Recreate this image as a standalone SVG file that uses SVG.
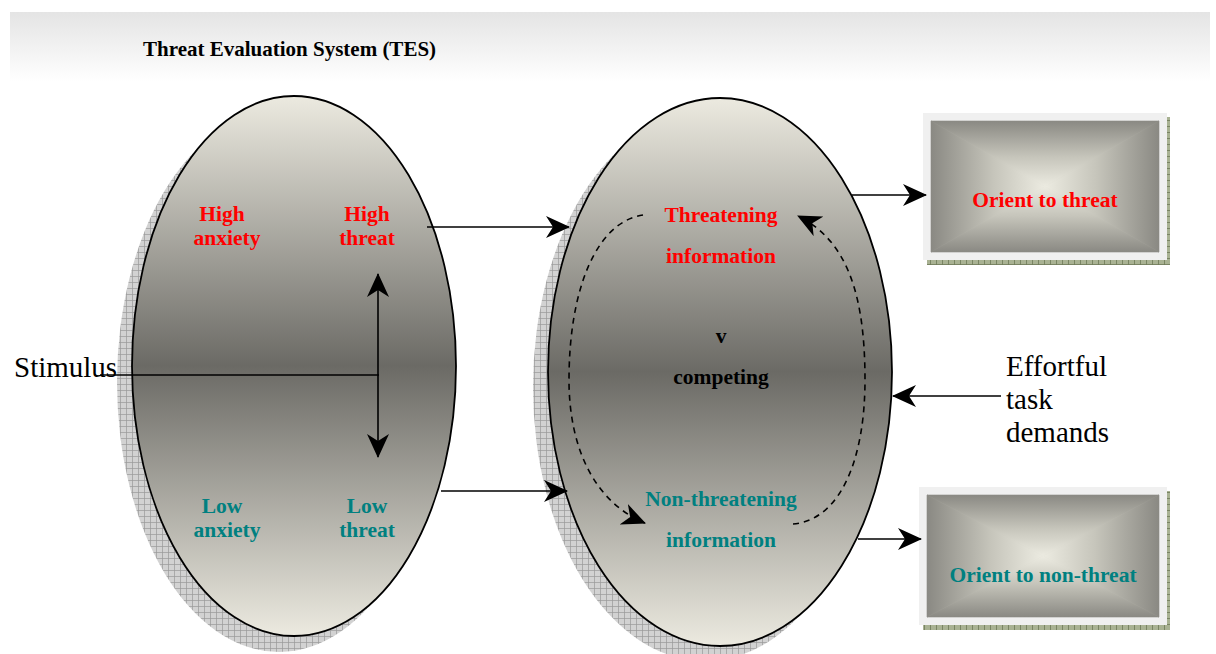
<svg xmlns="http://www.w3.org/2000/svg" width="1216" height="654" viewBox="0 0 1216 654">
<style>
.lbl{font-family:"Liberation Serif","Times New Roman",serif;font-weight:bold;font-size:21.5px;text-anchor:middle}
.red{fill:#ff0000}
.teal{fill:#008080}
.blk{fill:#000}
.plain{font-family:"Liberation Serif","Times New Roman",serif;font-size:29px;fill:#000}
.edge{fill:none;stroke:#000;stroke-width:1.6}
.dash{fill:none;stroke:#000;stroke-width:1.6;stroke-dasharray:6,5}
.ell{stroke:#000;stroke-width:1.8}
</style>
<defs>
<linearGradient id="band" x1="0" y1="0" x2="0" y2="1">
<stop offset="0" stop-color="#e4e4e4"/>
<stop offset="1" stop-color="#ffffff"/>
</linearGradient>
<linearGradient id="ellg" x1="0" y1="0" x2="0" y2="1">
<stop offset="0" stop-color="#eceae0"/>
<stop offset="0.5" stop-color="#6b6a65"/>
<stop offset="1" stop-color="#eceae0"/>
</linearGradient>
<linearGradient id="gT" x1="0" y1="0" x2="0" y2="1"><stop offset="0" stop-color="#8a8983"/><stop offset="0.55" stop-color="#c6c5bb"/><stop offset="1" stop-color="#ecebe1"/></linearGradient>
<linearGradient id="gB" x1="0" y1="1" x2="0" y2="0"><stop offset="0" stop-color="#8a8983"/><stop offset="0.55" stop-color="#c6c5bb"/><stop offset="1" stop-color="#ecebe1"/></linearGradient>
<linearGradient id="gL" x1="0" y1="0" x2="1" y2="0"><stop offset="0" stop-color="#8a8983"/><stop offset="0.55" stop-color="#c6c5bb"/><stop offset="1" stop-color="#ecebe1"/></linearGradient>
<linearGradient id="gR" x1="1" y1="0" x2="0" y2="0"><stop offset="0" stop-color="#8a8983"/><stop offset="0.55" stop-color="#c6c5bb"/><stop offset="1" stop-color="#ecebe1"/></linearGradient>
<pattern id="hatch" width="6" height="6" patternUnits="userSpaceOnUse">
<rect width="6" height="6" fill="#d2d2d2"/>
<path d="M0,0.5H6M0.5,0V6" stroke="#999" stroke-width="0.7"/>
</pattern>
<pattern id="ghatch" width="6" height="6" patternUnits="userSpaceOnUse">
<rect width="6" height="6" fill="#a9b293"/>
<path d="M0,0.5H6M0.5,0V6" stroke="#6e7a58" stroke-width="0.8"/>
</pattern>
<marker id="ah" viewBox="0 0 24 22" refX="23" refY="11" markerWidth="24" markerHeight="22" markerUnits="userSpaceOnUse" orient="auto">
<path d="M0,0 L24,11 L0,22 L7,11 z" fill="#000"/>
</marker>
<marker id="ahs" viewBox="0 0 24 22" refX="23" refY="11" markerWidth="24" markerHeight="22" markerUnits="userSpaceOnUse" orient="auto-start-reverse">
<path d="M0,0 L24,11 L0,22 L7,11 z" fill="#000"/>
</marker>
</defs>

<rect x="10" y="12" width="1200" height="70" fill="url(#band)"/>
<text x="143" y="56" style="font-family:'Liberation Serif','Times New Roman',serif;font-weight:bold;font-size:21px" fill="#000">Threat Evaluation System (TES)</text>

<g id="tes-left">
<ellipse cx="279" cy="382" rx="162" ry="270" fill="url(#hatch)"/>
<ellipse class="ell" cx="294" cy="366" rx="162" ry="270" fill="url(#ellg)"/>
<text class="lbl red" x="222" y="221">High</text>
<text class="lbl red" x="227" y="245">anxiety</text>
<text class="lbl red" x="367" y="221">High</text>
<text class="lbl red" x="367" y="245">threat</text>
<text class="lbl teal" x="222" y="513">Low</text>
<text class="lbl teal" x="227" y="537">anxiety</text>
<text class="lbl teal" x="367" y="513">Low</text>
<text class="lbl teal" x="367" y="537">threat</text>
</g>

<g id="tes-right">
<ellipse cx="705" cy="387" rx="172" ry="274" fill="url(#hatch)"/>
<ellipse class="ell" cx="720" cy="372" rx="172" ry="274" fill="url(#ellg)"/>
<text class="lbl red" x="721" y="222">Threatening</text>
<text class="lbl red" x="721" y="263">information</text>
<text class="lbl blk" x="721" y="343">v</text>
<text class="lbl blk" x="721" y="384">competing</text>
<text class="lbl teal" x="721" y="506">Non-threatening</text>
<text class="lbl teal" x="721" y="547">information</text>
</g>

<g id="orient-threat">
<rect x="927" y="117" width="243" height="148" fill="url(#ghatch)"/>
<rect x="923" y="113" width="244" height="147" fill="#f0f0f0"/>
<rect x="931" y="121" width="228" height="131" fill="#c6c5bb"/>
<polygon points="931,121 1159,121 1045,186.5" fill="url(#gT)" stroke="url(#gT)" stroke-width="0.6"/>
<polygon points="931,252 1159,252 1045,186.5" fill="url(#gB)" stroke="url(#gB)" stroke-width="0.6"/>
<polygon points="931,121 931,252 1045,186.5" fill="url(#gL)" stroke="url(#gL)" stroke-width="0.6"/>
<polygon points="1159,121 1159,252 1045,186.5" fill="url(#gR)" stroke="url(#gR)" stroke-width="0.6"/>
<text class="lbl red" x="1045" y="207">Orient to threat</text>
</g>

<g id="orient-nonthreat">
<rect x="923" y="491" width="247" height="139" fill="url(#ghatch)"/>
<rect x="919" y="487" width="248" height="138" fill="#f0f0f0"/>
<rect x="927" y="495" width="232" height="122" fill="#c6c5bb"/>
<polygon points="927,495 1159,495 1043,556" fill="url(#gT)" stroke="url(#gT)" stroke-width="0.6"/>
<polygon points="927,617 1159,617 1043,556" fill="url(#gB)" stroke="url(#gB)" stroke-width="0.6"/>
<polygon points="927,495 927,617 1043,556" fill="url(#gL)" stroke="url(#gL)" stroke-width="0.6"/>
<polygon points="1159,495 1159,617 1043,556" fill="url(#gR)" stroke="url(#gR)" stroke-width="0.6"/>
<text class="lbl teal" x="1043" y="582">Orient to non-threat</text>
</g>

<g id="stimulus">
<text class="plain" x="14" y="377">Stimulus</text>
</g>

<g id="effortful">
<text class="plain" x="1006" y="376">Effortful</text>
<text class="plain" x="1006" y="409">task</text>
<text class="plain" x="1006" y="442">demands</text>
</g>

<g id="connectors">
<path class="edge" d="M100,375 H379"/>
<path class="edge" d="M378,274 V457" marker-start="url(#ahs)" marker-end="url(#ah)"/>
<path class="edge" d="M427,227 H569" marker-end="url(#ah)"/>
<path class="edge" d="M441,491 H567" marker-end="url(#ah)"/>
<path class="edge" d="M852,195 H926" marker-end="url(#ah)"/>
<path class="edge" d="M858,539 H921" marker-end="url(#ah)"/>
<path class="edge" d="M1001,396 H893" marker-end="url(#ah)"/>
<path class="dash" d="M643,215 C596,222 569,290 569,380 C569,450 596,503 645,523" marker-end="url(#ah)"/>
<path class="dash" d="M793,524 C840,520 865,460 865,380 C865,292 846,240 798,216" marker-end="url(#ah)"/>
</g>
</svg>
